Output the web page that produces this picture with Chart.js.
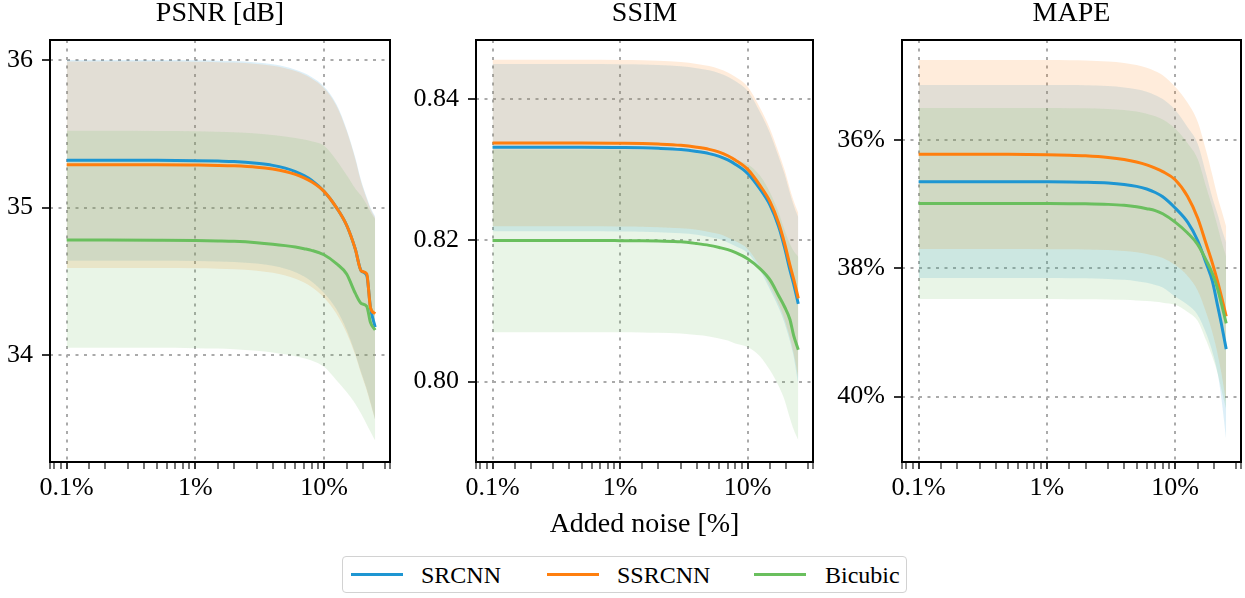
<!DOCTYPE html>
<html>
<head>
<meta charset="utf-8">
<script src="https://cdn.jsdelivr.net/npm/chart.js@4.4.1/dist/chart.umd.min.js"></script>
<style>
  body { margin: 0; background: #fff; width: 1245px; height: 598px; position: relative; overflow: hidden; font-family: "Liberation Serif", serif; }
  canvas { position: absolute; top: 0; }
  #legend { position: absolute; left: 342px; top: 556px; width: 563px; height: 35px; border: 1.5px solid #d2d2d2; border-radius: 4px; }
  #legend i { position: absolute; top: 16px; width: 52px; height: 3px; }
  #legend span { position: absolute; top: 0; line-height: 36px; font-size: 24px; color: #000; }
</style>
</head>
<body>
<canvas id="psnrChart" width="400" height="545" style="left:0px"></canvas>
<canvas id="ssimChart" width="417" height="545" style="left:400px"></canvas>
<canvas id="mapeChart" width="415" height="545" style="left:830px"></canvas>

<div id="legend">
  <i style="left:8px;background:#1E96D2"></i><span style="left:78px">SRCNN</span>
  <i style="left:204px;background:#FF7F0E"></i><span style="left:274px">SSRCNN</span>
  <i style="left:411px;background:#6ABF5E"></i><span style="left:482px">Bicubic</span>
</div>

<script>
// added noise levels [%]
const noise = [0.1, 0.2, 0.5, 1, 1.5, 2, 3, 4, 5, 6, 7, 8, 10, 12.5, 15, 17.5, 19.5, 21.5, 23, 25];

// PSNR [dB]  (mean, upper, lower)
const psnrSrcnn     = [35.32, 35.32, 35.32, 35.318, 35.315, 35.312, 35.30, 35.286, 35.267, 35.244, 35.217, 35.186, 35.11, 35.00, 34.88, 34.72, 34.57, 34.54, 34.32, 34.19];
const psnrSrcnnHi   = [36.00, 36.00, 36.00, 35.998, 35.996, 35.993, 35.984, 35.971, 35.955, 35.935, 35.912, 35.885, 35.82, 35.70, 35.53, 35.34, 35.18, 35.07, 35.00, 34.94];
const psnrSrcnnLo   = [34.64, 34.64, 34.64, 34.638, 34.635, 34.631, 34.62, 34.605, 34.585, 34.561, 34.532, 34.499, 34.42, 34.31, 34.17, 34.01, 33.88, 33.77, 33.68, 33.56];
const psnrSsrcnn    = [35.29, 35.29, 35.29, 35.288, 35.286, 35.283, 35.274, 35.261, 35.245, 35.225, 35.202, 35.175, 35.11, 35.00, 34.88, 34.72, 34.57, 34.55, 34.32, 34.28];
const psnrSsrcnnHi  = [35.99, 35.99, 35.99, 35.988, 35.986, 35.983, 35.974, 35.961, 35.945, 35.925, 35.902, 35.875, 35.81, 35.69, 35.52, 35.33, 35.17, 35.06, 34.99, 34.93];
const psnrSsrcnnLo  = [34.59, 34.59, 34.59, 34.588, 34.586, 34.582, 34.572, 34.558, 34.54, 34.518, 34.492, 34.462, 34.39, 34.28, 34.15, 34.00, 33.87, 33.76, 33.67, 33.56];
const psnrBicubic   = [34.78, 34.78, 34.779, 34.777, 34.774, 34.771, 34.762, 34.752, 34.742, 34.732, 34.721, 34.71, 34.68, 34.62, 34.55, 34.42, 34.35, 34.33, 34.22, 34.17];
const psnrBicubicHi = [35.52, 35.52, 35.519, 35.517, 35.514, 35.511, 35.502, 35.492, 35.482, 35.472, 35.461, 35.45, 35.42, 35.32, 35.22, 35.13, 35.08, 35.02, 34.97, 34.92];
const psnrBicubicLo = [34.05, 34.05, 34.049, 34.047, 34.044, 34.04, 34.03, 34.018, 34.005, 33.992, 33.978, 33.963, 33.92, 33.83, 33.75, 33.67, 33.60, 33.53, 33.48, 33.42];

// SSIM
const ssimSrcnn     = [0.8332, 0.8332, 0.8332, 0.83316, 0.83312, 0.83305, 0.83287, 0.8326, 0.8323, 0.8319, 0.8314, 0.8308, 0.8295, 0.8273, 0.8250, 0.8220, 0.8190, 0.8158, 0.8138, 0.8110];
const ssimSrcnnHi   = [0.8450, 0.8450, 0.8450, 0.84496, 0.84492, 0.84485, 0.84467, 0.8444, 0.8441, 0.8437, 0.8432, 0.8426, 0.8412, 0.8382, 0.8352, 0.8319, 0.8294, 0.8267, 0.8250, 0.8233];
const ssimSrcnnLo   = [0.8213, 0.8213, 0.8213, 0.82127, 0.82123, 0.82117, 0.82101, 0.8208, 0.8205, 0.8202, 0.8197, 0.8192, 0.8182, 0.8158, 0.8130, 0.8105, 0.8083, 0.8057, 0.8035, 0.7995];
const ssimSsrcnn    = [0.8338, 0.8338, 0.8338, 0.83376, 0.83372, 0.83365, 0.83347, 0.8332, 0.8329, 0.8325, 0.8320, 0.8314, 0.8301, 0.8278, 0.8255, 0.8225, 0.8196, 0.8165, 0.8145, 0.8118];
const ssimSsrcnnHi  = [0.8456, 0.8456, 0.8456, 0.84556, 0.84552, 0.84545, 0.84527, 0.8450, 0.8447, 0.8443, 0.8438, 0.8432, 0.8418, 0.8388, 0.8358, 0.8325, 0.8300, 0.8273, 0.8256, 0.8239];
const ssimSsrcnnLo  = [0.8220, 0.8220, 0.8220, 0.82197, 0.82193, 0.82187, 0.82171, 0.8215, 0.8212, 0.8209, 0.8204, 0.8199, 0.8188, 0.8163, 0.8135, 0.8110, 0.8088, 0.8062, 0.8040, 0.8005];
const ssimBicubic   = [0.8200, 0.8200, 0.8200, 0.81997, 0.81994, 0.8199, 0.8198, 0.81955, 0.8193, 0.8190, 0.8187, 0.8183, 0.8174, 0.8160, 0.8144, 0.8122, 0.8106, 0.8088, 0.8065, 0.8045];
const ssimBicubicHi = [0.8329, 0.8329, 0.8329, 0.83287, 0.83285, 0.8328, 0.8327, 0.8325, 0.8323, 0.8320, 0.8317, 0.8314, 0.8308, 0.8292, 0.8268, 0.8240, 0.8215, 0.8195, 0.8185, 0.8177];
const ssimBicubicLo = [0.8070, 0.8070, 0.8070, 0.80697, 0.80695, 0.8069, 0.8068, 0.8066, 0.8064, 0.8061, 0.8058, 0.8054, 0.8049, 0.8036, 0.8016, 0.7994, 0.7974, 0.7948, 0.7932, 0.7917];

// MAPE [%]  (axis is inverted: lower error on top)
const mapeSrcnn     = [36.65, 36.65, 36.65, 36.651, 36.653, 36.657, 36.67, 36.692, 36.722, 36.764, 36.818, 36.885, 37.06, 37.28, 37.57, 37.93, 38.20, 38.60, 38.88, 39.26];
const mapeSrcnnHi   = [35.14, 35.14, 35.14, 35.141, 35.143, 35.147, 35.159, 35.179, 35.209, 35.248, 35.30, 35.36, 35.53, 35.80, 36.06, 36.54, 36.90, 37.17, 37.38, 37.60];
const mapeSrcnnLo   = [38.15, 38.15, 38.15, 38.151, 38.153, 38.156, 38.165, 38.18, 38.20, 38.225, 38.26, 38.30, 38.44, 38.57, 38.73, 39.02, 39.30, 39.65, 40.05, 40.68];
const mapeSsrcnn    = [36.22, 36.22, 36.222, 36.228, 36.236, 36.246, 36.272, 36.304, 36.343, 36.388, 36.439, 36.493, 36.62, 36.88, 37.22, 37.63, 37.92, 38.22, 38.45, 38.75];
const mapeSsrcnnHi  = [34.75, 34.75, 34.75, 34.752, 34.754, 34.759, 34.774, 34.797, 34.83, 34.873, 34.928, 34.99, 35.17, 35.42, 35.72, 36.18, 36.55, 36.90, 37.10, 37.35];
const mapeSsrcnnLo  = [37.70, 37.70, 37.70, 37.701, 37.703, 37.706, 37.715, 37.73, 37.75, 37.775, 37.805, 37.84, 37.95, 38.12, 38.35, 38.70, 39.00, 39.35, 39.65, 40.10];
const mapeBicubic   = [36.99, 36.99, 36.99, 36.991, 36.992, 36.994, 37.003, 37.018, 37.041, 37.07, 37.10, 37.15, 37.28, 37.45, 37.63, 37.88, 38.08, 38.33, 38.56, 38.86];
const mapeBicubicHi = [35.50, 35.50, 35.50, 35.501, 35.503, 35.506, 35.516, 35.532, 35.556, 35.588, 35.63, 35.68, 35.82, 36.05, 36.30, 36.74, 37.05, 37.36, 37.58, 37.82];
const mapeBicubicLo = [38.48, 38.48, 38.48, 38.48, 38.481, 38.482, 38.486, 38.492, 38.50, 38.51, 38.522, 38.535, 38.57, 38.68, 38.82, 39.13, 39.38, 39.65, 39.90, 40.20];

// y tick labels
const psnrTicks = ["34", "35", "36"];
const ssimTicks = ["0.80", "0.82", "0.84"];
const mapeTicks = ["36%", "38%", "40%"];

const BLUE = "#1E96D2", ORANGE = "#FF7F0E", GREEN = "#6ABF5E";
const SERIF = "'Liberation Serif', 'Times New Roman', serif";

Chart.defaults.font.family = SERIF;
Chart.defaults.color = "#000";

function pts(arr) {
  return noise.map((x, i) => ({ x: x, y: arr[i] }));
}

function fade(hex, a) {
  const n = parseInt(hex.slice(1), 16);
  return `rgba(${n >> 16},${(n >> 8) & 255},${n & 255},${a})`;
}

function isDecade(v) {
  const l = Math.log10(v);
  return Math.abs(l - Math.round(l)) < 1e-6;
}

// band = upper dataset filled down to the lower one
function band(hi, lo, color, ord) {
  return [
    { data: pts(hi), fill: "+1", backgroundColor: fade(color, 0.15), borderWidth: 0, borderColor: "rgba(0,0,0,0)",
      pointRadius: 0, cubicInterpolationMode: "monotone", order: ord },
    { data: pts(lo), fill: false, borderWidth: 0, borderColor: "rgba(0,0,0,0)",
      pointRadius: 0, cubicInterpolationMode: "monotone", order: ord }
  ];
}

function line(vals, color, ord) {
  return { data: pts(vals), borderColor: color, borderWidth: 3, pointRadius: 0, fill: false,
           cubicInterpolationMode: "monotone", order: ord };
}

// black box around the plot area
const framePlugin = {
  id: "frame",
  afterDraw(chart) {
    const { ctx, chartArea: a } = chart;
    ctx.save();
    ctx.strokeStyle = "#000";
    ctx.lineWidth = 2;
    ctx.strokeRect(a.left, a.top, a.right - a.left, a.bottom - a.top);
    ctx.restore();
  }
};

function makePanel(id, cfg) {
  const datasets = [
    ...band(cfg.blue[1], cfg.blue[2], BLUE, 12),
    ...band(cfg.orange[1], cfg.orange[2], ORANGE, 11),
    ...band(cfg.green[1], cfg.green[2], GREEN, 10),
    line(cfg.blue[0], BLUE, 2),
    line(cfg.orange[0], ORANGE, 1),
    line(cfg.green[0], GREEN, 0)
  ];

  new Chart(document.getElementById(id), {
    type: "line",
    data: { datasets },
    options: {
      responsive: false,
      animation: false,
      layout: { padding: { right: cfg.padRight } },
      plugins: {
        legend: { display: false },
        tooltip: { enabled: false },
        title: {
          display: true, text: cfg.title, fullSize: false,
          font: { size: 28, weight: "normal", lineHeight: 1 },
          padding: { top: 0, bottom: 12 }, color: "#000"
        }
      },
      scales: {
        x: {
          type: "logarithmic", min: 0.0742, max: 32.6,
          afterFit: s => { s.height = 83; },
          border: { display: false, dash: [3, 5.5] },
          grid: {
            color: c => (c.tick && isDecade(c.tick.value)) ? "#aaaaaa" : "rgba(0,0,0,0)",
            lineWidth: 2, tickLength: 7, tickColor: "#000",
            tickWidth: c => (c.tick && isDecade(c.tick.value)) ? 1.6 : 1.1,
            tickBorderDash: []
          },
          ticks: {
            autoSkip: false, maxRotation: 0, padding: 4,
            font: { size: 26 },
            callback: v => isDecade(v) ? (+Number(v).toPrecision(3)) + "%" : ""
          },
          title: {
            display: !!cfg.xTitle, text: cfg.xTitle || "",
            font: { size: 28, lineHeight: 1 }, padding: { top: 0, bottom: 6 }, color: "#000"
          }
        },
        y: {
          min: cfg.yMin, max: cfg.yMax, reverse: !!cfg.reverse,
          afterFit: s => { s.width = cfg.yWidth; },
          border: { display: false, dash: [3, 5.5] },
          grid: { color: "#aaaaaa", lineWidth: 2, tickLength: 8, tickColor: "#000", tickWidth: 1.6, tickBorderDash: [] },
          ticks: {
            stepSize: cfg.step, includeBounds: false, padding: 9,
            font: { size: 26 },
            callback: v => {
              const i = Math.round((v - cfg.firstTick) / cfg.step);
              return cfg.tickLabels[i];
            }
          }
        }
      }
    },
    plugins: [framePlugin]
  });
}

makePanel("psnrChart", {
  title: "PSNR [dB]",
  blue: [psnrSrcnn, psnrSrcnnHi, psnrSrcnnLo],
  orange: [psnrSsrcnn, psnrSsrcnnHi, psnrSsrcnnLo],
  green: [psnrBicubic, psnrBicubicHi, psnrBicubicLo],
  yMin: 33.275, yMax: 36.136, step: 1, firstTick: 34, tickLabels: psnrTicks,
  yWidth: 50, padRight: 10
});

makePanel("ssimChart", {
  title: "SSIM", xTitle: "Added noise [%]",
  blue: [ssimSrcnn, ssimSrcnnHi, ssimSrcnnLo],
  orange: [ssimSsrcnn, ssimSsrcnnHi, ssimSsrcnnLo],
  green: [ssimBicubic, ssimBicubicHi, ssimBicubicLo],
  yMin: 0.7886, yMax: 0.8484, step: 0.02, firstTick: 0.80, tickLabels: ssimTicks,
  yWidth: 76, padRight: 0
});

makePanel("mapeChart", {
  title: "MAPE",
  blue: [mapeSrcnn, mapeSrcnnHi, mapeSrcnnLo],
  orange: [mapeSsrcnn, mapeSsrcnnHi, mapeSsrcnnLo],
  green: [mapeBicubic, mapeBicubicHi, mapeBicubicLo],
  yMin: 34.44, yMax: 41.02, reverse: true, step: 2, firstTick: 36, tickLabels: mapeTicks,
  yWidth: 72, padRight: 2
});
</script>
</body>
</html>
